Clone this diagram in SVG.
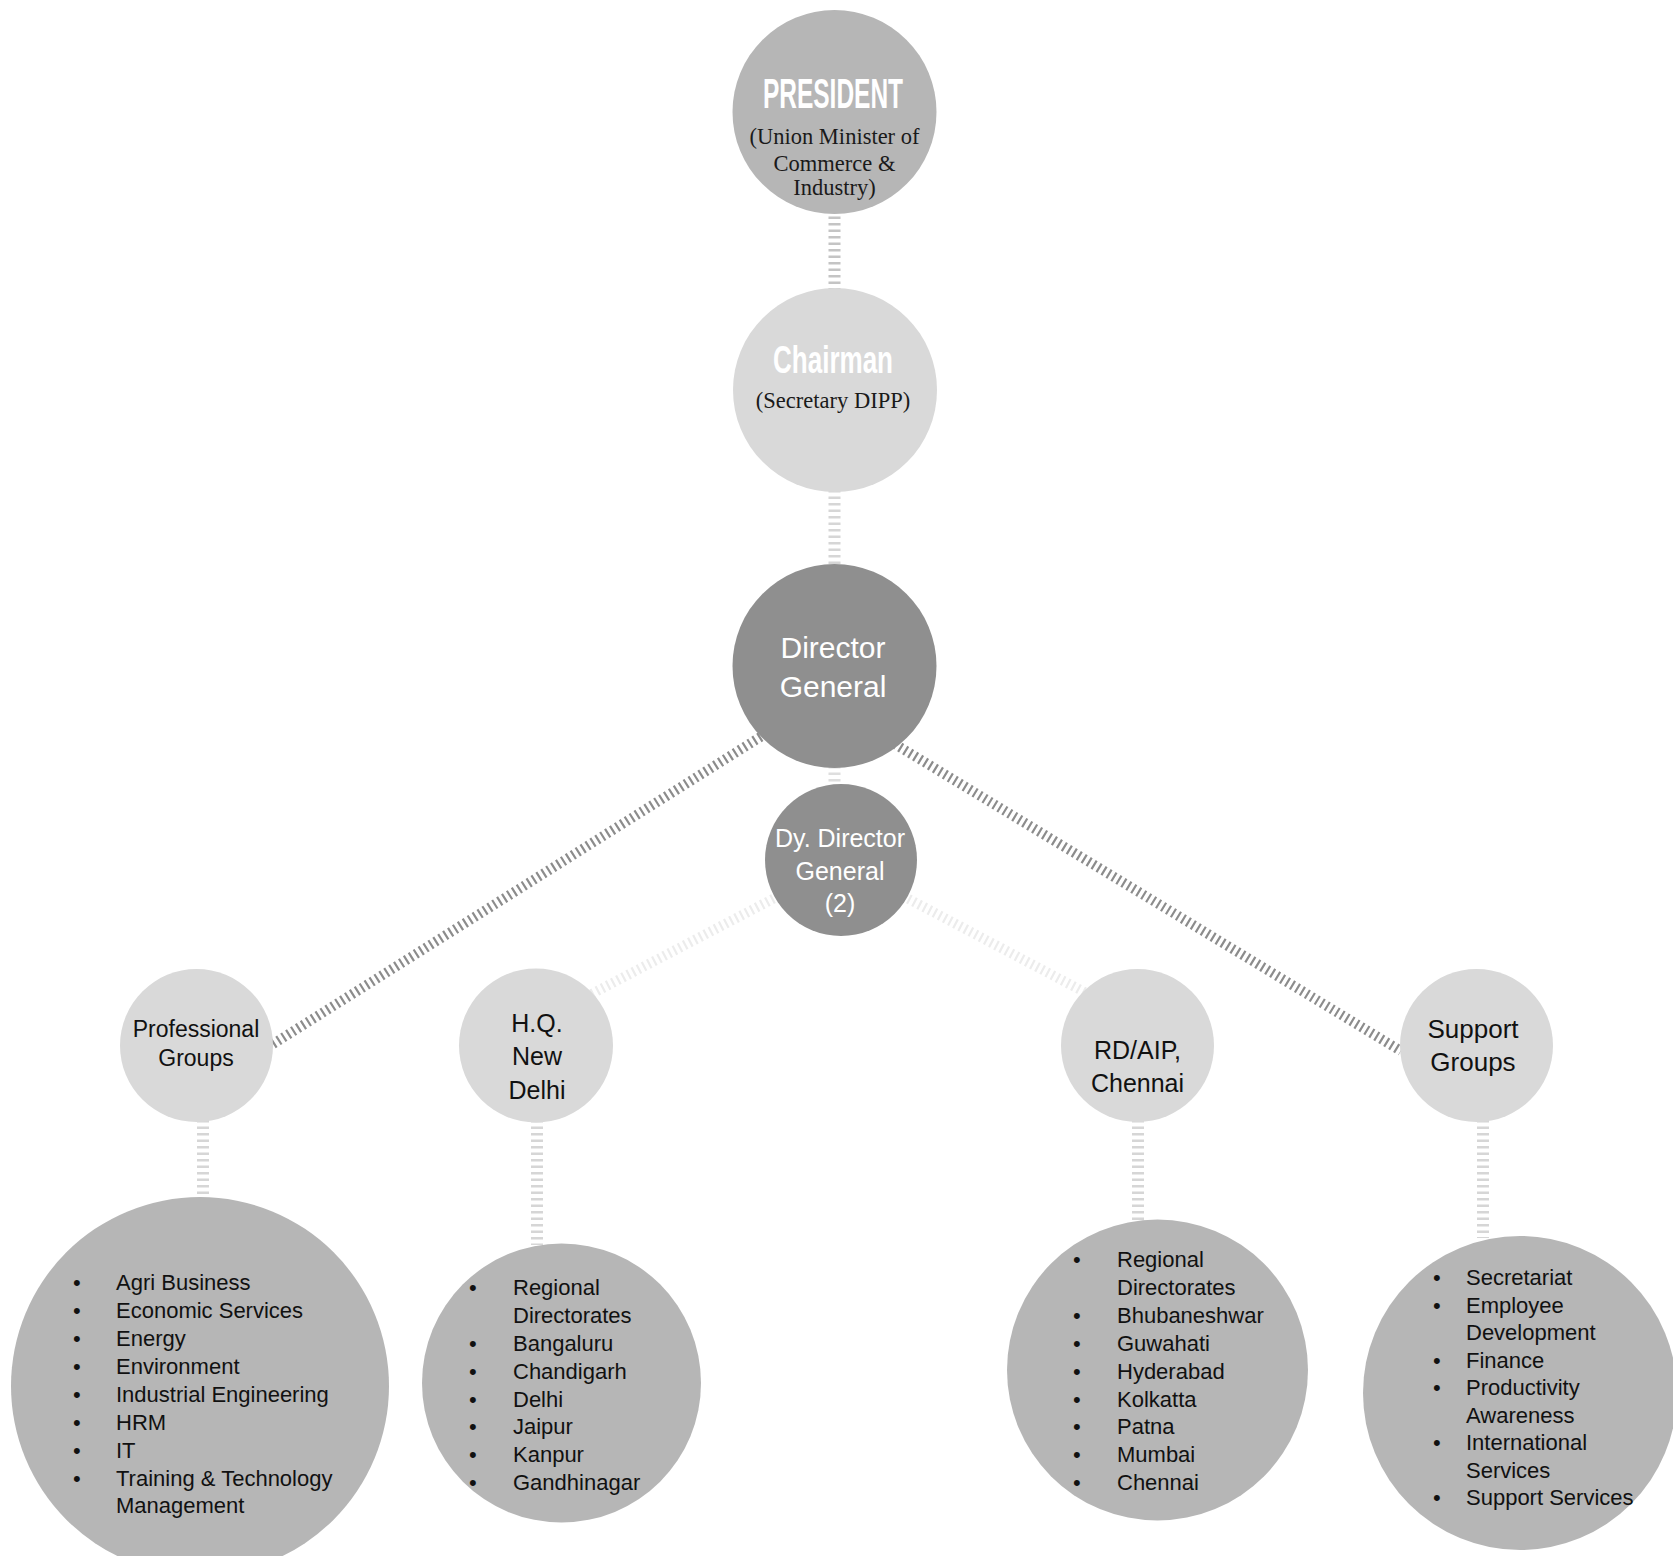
<svg xmlns="http://www.w3.org/2000/svg" width="1673" height="1556" viewBox="0 0 1673 1556">
<style>
.bg{fill:#ffffff}
.c-mid{fill:#b6b6b6}
.c-light{fill:#d9d9d9}
.c-dark{fill:#8f8f8f}
.vconn{stroke-width:12;stroke-dasharray:2.5 4;fill:none}
.dconn{stroke-width:10;stroke-dasharray:2.2 3.6;fill:none}
.title{font-family:"Liberation Sans",Arial,sans-serif;font-weight:bold;fill:#ffffff;text-anchor:middle}
.serif{font-family:"Liberation Serif","Times New Roman",serif;font-size:22.5px;fill:#1a1a1a;text-anchor:middle}
.wt{font-family:"Liberation Sans",Arial,sans-serif;fill:#ffffff;text-anchor:middle}
.bt{font-family:"Liberation Sans",Arial,sans-serif;fill:#111111;text-anchor:middle}
.list{font-family:"Liberation Sans",Arial,sans-serif;font-size:22px;fill:#111111}
</style>
<rect class="bg" x="0" y="0" width="1673" height="1556"/>
<g id="connectors">
<line class="vconn" stroke="#c4c4c4" x1="834.5" y1="210" x2="834.5" y2="290"/>
<line class="vconn" stroke="#d6d6d6" x1="834.5" y1="490" x2="834.5" y2="566"/>
<line class="vconn" stroke="#dedede" x1="834.5" y1="766" x2="834.5" y2="786"/>
<line class="dconn" stroke="#8c8c8c" x1="800" y1="712" x2="273" y2="1044"/>
<line class="dconn" stroke="#8c8c8c" x1="870" y1="729" x2="1401" y2="1051"/>
<line class="dconn" stroke="#ececec" x1="830" y1="869" x2="580" y2="1000"/>
<line class="dconn" stroke="#ececec" x1="852" y1="869" x2="1090" y2="995"/>
<line class="vconn" stroke="#d6d6d6" x1="203" y1="1120" x2="203" y2="1198"/>
<line class="vconn" stroke="#d6d6d6" x1="537" y1="1120" x2="537" y2="1245"/>
<line class="vconn" stroke="#d6d6d6" x1="1138" y1="1120" x2="1138" y2="1221"/>
<line class="vconn" stroke="#d6d6d6" x1="1483" y1="1120" x2="1483" y2="1238"/>
</g>
<g id="president">
<circle class="c-mid" cx="834.5" cy="112" r="102"/>
<text class="title" x="833" y="108" font-size="43" textLength="140" lengthAdjust="spacingAndGlyphs">PRESIDENT</text>
<text class="serif" x="834.5" y="144">(Union Minister of</text>
<text class="serif" x="834.5" y="170.5">Commerce &amp;</text>
<text class="serif" x="834.5" y="195">Industry)</text>
</g>
<g id="chairman">
<circle class="c-light" cx="835" cy="390" r="102"/>
<text class="title" x="833" y="373" font-size="39" textLength="120" lengthAdjust="spacingAndGlyphs">Chairman</text>
<text class="serif" x="833" y="408">(Secretary DIPP)</text>
</g>
<g id="director-general">
<circle class="c-dark" cx="834.5" cy="666" r="102"/>
<text class="wt" font-size="30" x="833" y="658">Director</text>
<text class="wt" font-size="30" x="833" y="697">General</text>
</g>
<g id="dy-director-general">
<circle class="c-dark" cx="841" cy="860" r="76"/>
<text class="wt" font-size="25" x="840" y="847">Dy. Director</text>
<text class="wt" font-size="25" x="840" y="880">General</text>
<text class="wt" font-size="25" x="840" y="912">(2)</text>
</g>
<g id="professional-groups">
<circle class="c-light" cx="196.5" cy="1045.5" r="76.5"/>
<text class="bt" font-size="23" x="196" y="1037">Professional</text>
<text class="bt" font-size="23" x="196" y="1066">Groups</text>
</g>
<g id="hq-new-delhi">
<circle class="c-light" cx="536" cy="1045.5" r="77"/>
<text class="bt" font-size="25" x="537" y="1032">H.Q.</text>
<text class="bt" font-size="25" x="537" y="1065">New</text>
<text class="bt" font-size="25" x="537" y="1099">Delhi</text>
</g>
<g id="rd-aip-chennai">
<circle class="c-light" cx="1137.5" cy="1045.5" r="76.5"/>
<text class="bt" font-size="25" x="1137.5" y="1059">RD/AIP,</text>
<text class="bt" font-size="25" x="1137.5" y="1092">Chennai</text>
</g>
<g id="support-groups">
<circle class="c-light" cx="1476.5" cy="1045.5" r="76.5"/>
<text class="bt" font-size="26" x="1473" y="1038">Support</text>
<text class="bt" font-size="26" x="1473" y="1071">Groups</text>
</g>
<g id="professional-list">
<circle class="c-mid" cx="200" cy="1386" r="189"/>
<text class="list">
<tspan x="73" y="1290">•</tspan><tspan x="116" y="1290">Agri Business</tspan>
<tspan x="73" y="1318">•</tspan><tspan x="116" y="1318">Economic Services</tspan>
<tspan x="73" y="1346">•</tspan><tspan x="116" y="1346">Energy</tspan>
<tspan x="73" y="1374">•</tspan><tspan x="116" y="1374">Environment</tspan>
<tspan x="73" y="1402">•</tspan><tspan x="116" y="1402">Industrial Engineering</tspan>
<tspan x="73" y="1430">•</tspan><tspan x="116" y="1430">HRM</tspan>
<tspan x="73" y="1458">•</tspan><tspan x="116" y="1458">IT</tspan>
<tspan x="73" y="1486">•</tspan><tspan x="116" y="1486">Training &amp; Technology</tspan>
<tspan x="116" y="1513">Management</tspan>
</text>
</g>
<g id="hq-list">
<circle class="c-mid" cx="561.5" cy="1383" r="139.5"/>
<text class="list">
<tspan x="469" y="1295">•</tspan><tspan x="513" y="1295">Regional</tspan>
<tspan x="513" y="1323">Directorates</tspan>
<tspan x="469" y="1351">•</tspan><tspan x="513" y="1351">Bangaluru</tspan>
<tspan x="469" y="1379">•</tspan><tspan x="513" y="1379">Chandigarh</tspan>
<tspan x="469" y="1407">•</tspan><tspan x="513" y="1407">Delhi</tspan>
<tspan x="469" y="1434">•</tspan><tspan x="513" y="1434">Jaipur</tspan>
<tspan x="469" y="1462">•</tspan><tspan x="513" y="1462">Kanpur</tspan>
<tspan x="469" y="1490">•</tspan><tspan x="513" y="1490">Gandhinagar</tspan>
</text>
</g>
<g id="rd-list">
<circle class="c-mid" cx="1157.5" cy="1370" r="150.5"/>
<text class="list">
<tspan x="1073" y="1267">•</tspan><tspan x="1117" y="1267">Regional</tspan>
<tspan x="1117" y="1295">Directorates</tspan>
<tspan x="1073" y="1323">•</tspan><tspan x="1117" y="1323">Bhubaneshwar</tspan>
<tspan x="1073" y="1351">•</tspan><tspan x="1117" y="1351">Guwahati</tspan>
<tspan x="1073" y="1379">•</tspan><tspan x="1117" y="1379">Hyderabad</tspan>
<tspan x="1073" y="1407">•</tspan><tspan x="1117" y="1407">Kolkatta</tspan>
<tspan x="1073" y="1434">•</tspan><tspan x="1117" y="1434">Patna</tspan>
<tspan x="1073" y="1462">•</tspan><tspan x="1117" y="1462">Mumbai</tspan>
<tspan x="1073" y="1490">•</tspan><tspan x="1117" y="1490">Chennai</tspan>
</text>
</g>
<g id="support-list">
<circle class="c-mid" cx="1520" cy="1393" r="157"/>
<text class="list">
<tspan x="1433" y="1285">•</tspan><tspan x="1466" y="1285">Secretariat</tspan>
<tspan x="1433" y="1312.5">•</tspan><tspan x="1466" y="1312.5">Employee</tspan>
<tspan x="1466" y="1340">Development</tspan>
<tspan x="1433" y="1367.5">•</tspan><tspan x="1466" y="1367.5">Finance</tspan>
<tspan x="1433" y="1395">•</tspan><tspan x="1466" y="1395">Productivity</tspan>
<tspan x="1466" y="1422.5">Awareness</tspan>
<tspan x="1433" y="1450">•</tspan><tspan x="1466" y="1450">International</tspan>
<tspan x="1466" y="1477.5">Services</tspan>
<tspan x="1433" y="1505">•</tspan><tspan x="1466" y="1505">Support Services</tspan>
</text>
</g>
</svg>
